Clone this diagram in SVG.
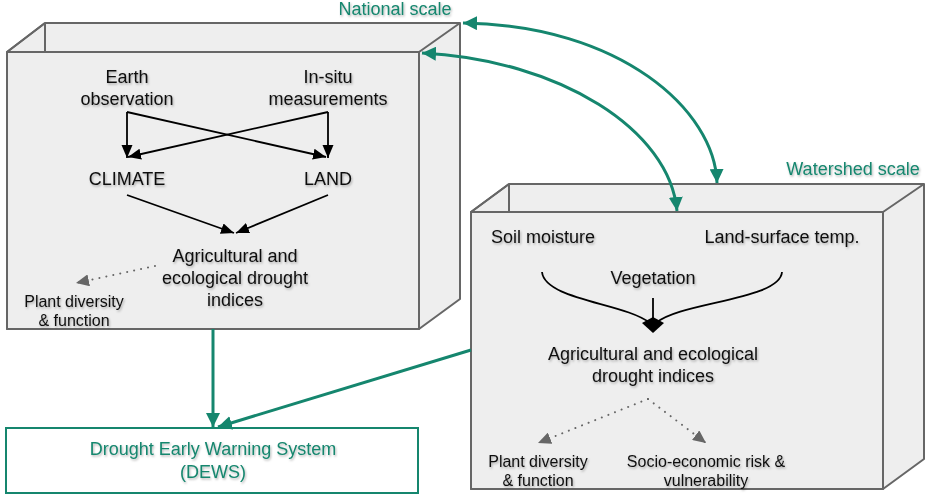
<svg xmlns="http://www.w3.org/2000/svg" width="926" height="501" viewBox="0 0 926 501">
<style>
.box{fill:#eeeeee;stroke:#666666;stroke-width:2;stroke-linejoin:round}
.t{font-family:"Liberation Sans",Arial,sans-serif;font-size:18px;fill:#111;text-anchor:middle;filter:url(#sh)}
.s{font-size:16px}
.tl{fill:#15866e}
.blk{stroke:#000;stroke-width:1.8;fill:none;marker-end:url(#ab)}
.dot{stroke:#666;stroke-width:2;stroke-dasharray:0.1 7;stroke-linecap:round;fill:none;marker-end:url(#ag)}
.teal{stroke:#15866e;stroke-width:3;fill:none}
</style>
<defs>
<filter id="sh" x="-10%" y="-30%" width="120%" height="160%"><feDropShadow dx="1" dy="1.5" stdDeviation="1.2" flood-color="#000" flood-opacity="0.3"/></filter>
<marker id="ab" markerUnits="userSpaceOnUse" markerWidth="14" markerHeight="12" refX="13" refY="5.5" orient="auto"><path d="M0,0 L13,5.5 L0,11 z" fill="#000"/></marker>
<marker id="ag" markerUnits="userSpaceOnUse" markerWidth="14" markerHeight="12" refX="13" refY="6" orient="auto"><path d="M0,0 L13,6 L0,12 z" fill="#666"/></marker>
<marker id="at" markerUnits="userSpaceOnUse" markerWidth="15" markerHeight="14" refX="14" refY="7" orient="auto-start-reverse"><path d="M0,0 L14,7 L0,14 z" fill="#15866e"/></marker>
</defs>

<g id="national">
<path class="box" d="M45,23 L460,23 L460,299 L419,329 L7,329 L7,52 Z"/>
<path class="box" fill="none" d="M7,52 L45,23 M419,52 L460,23 M45,23 L45,52"/>
<rect class="box" x="7" y="52" width="412" height="277"/>
<text class="t tl" x="395" y="15">National scale</text>
<text class="t" x="127" y="83">Earth</text>
<text class="t" x="127" y="105">observation</text>
<text class="t" x="328" y="83">In-situ</text>
<text class="t" x="328" y="105">measurements</text>
<text class="t" x="127" y="185">CLIMATE</text>
<text class="t" x="328" y="185">LAND</text>
<text class="t" x="235" y="262">Agricultural and</text>
<text class="t" x="235" y="284">ecological drought</text>
<text class="t" x="235" y="306">indices</text>
<text class="t s" x="74" y="307">Plant diversity</text>
<text class="t s" x="74" y="326">&amp; function</text>
<path class="blk" d="M127,112 L127,158"/>
<path class="blk" d="M127,112 L326,157"/>
<path class="blk" d="M328,112 L328,158"/>
<path class="blk" d="M328,112 L128,157"/>
<path class="blk" d="M127,195 L234,233"/>
<path class="blk" d="M328,195 L236,233"/>
<path class="dot" d="M155,266 L76,283"/>
</g>

<g id="watershed">
<path class="box" d="M509,184 L924,184 L924,459 L883,489 L471,489 L471,212 Z"/>
<path class="box" fill="none" d="M471,212 L509,184 M883,212 L924,184 M509,184 L509,212"/>
<rect class="box" x="471" y="212" width="412" height="277"/>
<text class="t tl" x="853" y="175">Watershed scale</text>
<text class="t" x="543" y="243">Soil moisture</text>
<text class="t" x="782" y="243">Land-surface temp.</text>
<text class="t" x="653" y="284">Vegetation</text>
<text class="t" x="653" y="360">Agricultural and ecological</text>
<text class="t" x="653" y="382">drought indices</text>
<text class="t s" x="538" y="467">Plant diversity</text>
<text class="t s" x="538" y="486">&amp; function</text>
<text class="t s" x="706" y="467">Socio-economic risk &amp;</text>
<text class="t s" x="706" y="486">vulnerability</text>
<path d="M542,272 C545,300 625,303 650,323" stroke="#000" stroke-width="1.8" fill="none"/>
<path d="M782,272 C780,300 680,302 656,323" stroke="#000" stroke-width="1.8" fill="none"/>
<path d="M653,298 L653,322" stroke="#000" stroke-width="1.8"/>
<path d="M642,323 L653,317 L664,323 L653,333 Z" fill="#000"/>
<path class="dot" d="M648,399 L538,443"/>
<path class="dot" d="M648,399 L706,443"/>
</g>

<g id="dews">
<rect x="6" y="428" width="412" height="65" fill="#fff" stroke="#15866e" stroke-width="2"/>
<text class="t tl" x="213" y="455">Drought Early Warning System</text>
<text class="t tl" x="213" y="478">(DEWS)</text>
</g>

<g id="connectors">
<path class="teal" marker-end="url(#at)" d="M213,329 L213,427"/>
<path class="teal" marker-end="url(#at)" d="M471,350 L218,427"/>
<path class="teal" marker-start="url(#at)" marker-end="url(#at)" d="M463,23 C620,25 715,110 717,183"/>
<path class="teal" marker-start="url(#at)" marker-end="url(#at)" d="M422,53 C560,60 670,130 677,211"/>
</g>
</svg>
